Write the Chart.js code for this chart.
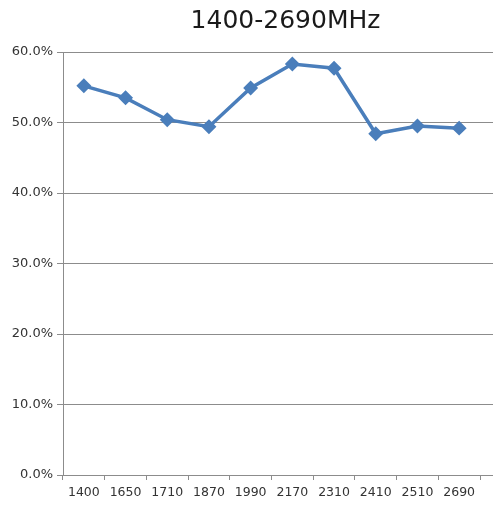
<!DOCTYPE html>
<html>
<head>
<meta charset="utf-8">
<script src="https://cdn.jsdelivr.net/npm/chart.js@4"></script>
<style>
  html, body { margin: 0; padding: 0; background: #fff; }
  #wrap { position: relative; width: 493px; height: 507px; }
</style>
</head>
<body>
<div id="wrap"><canvas id="c" width="493" height="507"></canvas></div>
<script>
const chartTitle = '1400-2690MHz';
const freqs = ['1400', '1650', '1710', '1870', '1990', '2170', '2310', '2410', '2510', '2690'];
const efficiency = [55.2, 53.5, 50.4, 49.4, 54.9, 58.3, 57.7, 48.4, 49.5, 49.2];
const yTicks = [0, 10, 20, 30, 40, 50, 60];

const gridGray = '#8c8c8c';
const lineBlue = '#4a7ebb';

// 제목은 차트 영역 기준으로 약간 오른쪽에 위치
const titlePlugin = {
  id: 'offsetTitle',
  afterDraw(chart) {
    const ctx = chart.ctx;
    ctx.save();
    ctx.font = "25px 'DejaVu Sans', sans-serif";
    ctx.fillStyle = '#1a1a1a';
    ctx.textAlign = 'center';
    ctx.textBaseline = 'alphabetic';
    ctx.fillText(chartTitle, 285.5, 27.5);
    ctx.restore();
  }
};

// 가로 격자선을 캔버스 오른쪽 끝까지 연장 (Chart.js와 같은 픽셀 정렬)
const gridExtend = {
  id: 'gridExtend',
  beforeDatasetsDraw(chart) {
    const { ctx, chartArea, scales } = chart;
    ctx.save();
    ctx.strokeStyle = gridGray;
    ctx.lineWidth = 1;
    yTicks.forEach(v => {
      const y = Math.round(scales.y.getPixelForValue(v) - 0.5) + 0.5;
      ctx.beginPath();
      ctx.moveTo(chartArea.right, y);
      ctx.lineTo(chart.width, y);
      ctx.stroke();
    });
    ctx.restore();
  }
};

new Chart(document.getElementById('c'), {
  type: 'line',
  data: {
    labels: freqs,
    datasets: [{
      data: efficiency,
      borderColor: lineBlue,
      backgroundColor: lineBlue,
      borderWidth: 3.5,
      pointStyle: 'rectRot',
      pointRadius: 5,
      pointHoverRadius: 5,
      tension: 0
    }]
  },
  options: {
    responsive: false,
    animation: false,
    layout: { padding: { top: 52, right: 13, bottom: 0, left: 0 } },
    plugins: { legend: { display: false }, title: { display: false }, tooltip: { enabled: false } },
    scales: {
      x: {
        offset: true,
        grid: { offset: true, drawOnChartArea: false, color: gridGray, tickLength: 5 },
        border: { color: gridGray },
        ticks: { color: '#333', padding: 5, font: { family: "'DejaVu Sans', sans-serif", size: 12.5 }, maxRotation: 0, autoSkip: false },
        afterFit(s) { s.height = 32; }
      },
      y: {
        min: 0, max: 60,
        afterBuildTicks(s) { s.ticks = yTicks.map(v => ({ value: v })); },
        grid: { color: gridGray, tickLength: 6 },
        border: { color: gridGray },
        ticks: {
          color: '#333', padding: 4,
          font: { family: "'DejaVu Sans', sans-serif", size: 13 },
          callback: v => v.toFixed(1) + '%'
        },
        afterFit(s) { s.width = 63; }
      }
    }
  },
  plugins: [titlePlugin, gridExtend]
});
</script>
</body>
</html>
